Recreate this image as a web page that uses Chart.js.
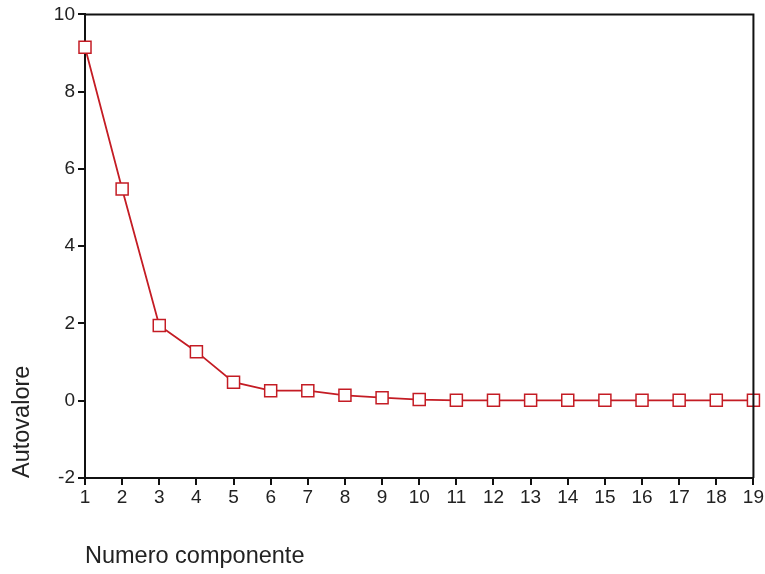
<!DOCTYPE html>
<html>
<head>
<meta charset="utf-8">
<script src="https://cdn.jsdelivr.net/npm/chart.js@4/dist/chart.umd.min.js"></script>
<style>
  html, body { margin: 0; padding: 0; background: #ffffff; }
  #wrap { width: 765px; height: 574px; position: relative; }
</style>
</head>
<body>
<div id="wrap"><canvas id="c" width="765" height="574"></canvas></div>
<script>
const categories = ['1','2','3','4','5','6','7','8','9','10','11','12','13','14','15','16','17','18','19'];
const eigenvalues = [9.15, 5.48, 1.95, 1.27, 0.48, 0.26, 0.26, 0.14, 0.08, 0.03, 0.01, 0.01, 0.01, 0.01, 0.01, 0.01, 0.01, 0.01, 0.01];
const yTicks = [-2, 0, 2, 4, 6, 8, 10];
const xTitle = 'Numero componente';
const yTitle = 'Autovalore';

const boxPlugin = {
  id: 'box',
  afterDatasetsDraw(chart) {
    const {ctx, chartArea: a} = chart;
    ctx.save();
    ctx.strokeStyle = '#111111';
    ctx.lineWidth = 2;
    ctx.beginPath();
    ctx.moveTo(a.left, a.top);
    ctx.lineTo(a.right, a.top);
    ctx.lineTo(a.right, a.bottom);
    ctx.stroke();
    ctx.restore();
  }
};

new Chart(document.getElementById('c'), {
  type: 'line',
  data: {
    labels: categories,
    datasets: [{
      data: eigenvalues,
      borderColor: '#c41c24',
      borderWidth: 1.8,
      tension: 0,
      pointStyle: 'rect',
      pointRadius: 8.5,
      pointHoverRadius: 8.5,
      pointBorderWidth: 1.5,
      pointBorderColor: '#c41c24',
      pointBackgroundColor: '#ffffff'
    }]
  },
  options: {
    responsive: false,
    animation: false,
    events: [],
    layout: { padding: { top: 14, right: 10, left: 0, bottom: 0 } },
    plugins: { legend: { display: false }, tooltip: { enabled: false } },
    scales: {
      x: {
        type: 'category',
        offset: false,
        afterFit(scale) { scale.height = 96; },
        grid: { display: true, drawOnChartArea: false, drawTicks: true, tickLength: 7, color: '#111111', lineWidth: 2 },
        border: { display: true, color: '#111111', width: 2 },
        ticks: {
          color: '#222222',
          font: { family: 'Liberation Sans, Arial, sans-serif', size: 19 },
          maxRotation: 0, minRotation: 0, autoSkip: false, padding: 1
        },
        title: {
          display: true, text: xTitle, align: 'start', color: '#222222',
          font: { family: 'Liberation Sans, Arial, sans-serif', size: 23.5 },
          padding: { top: 0, bottom: 3 }
        }
      },
      y: {
        min: -2, max: 10,
        afterFit(scale) { scale.width = 85; },
        afterBuildTicks(scale) { scale.ticks = yTicks.map(v => ({ value: v })); },
        grid: { display: true, drawOnChartArea: false, drawTicks: true, tickLength: 7, color: '#111111', lineWidth: 2 },
        border: { display: true, color: '#111111', width: 2 },
        ticks: {
          color: '#222222',
          font: { family: 'Liberation Sans, Arial, sans-serif', size: 19 },
          padding: 3
        },
        title: {
          display: true, text: yTitle, align: 'start', color: '#222222',
          font: { family: 'Liberation Sans, Arial, sans-serif', size: 23.5 },
          padding: { top: 8, bottom: 0 }
        }
      }
    }
  },
  plugins: [boxPlugin]
});
</script>
</body>
</html>
